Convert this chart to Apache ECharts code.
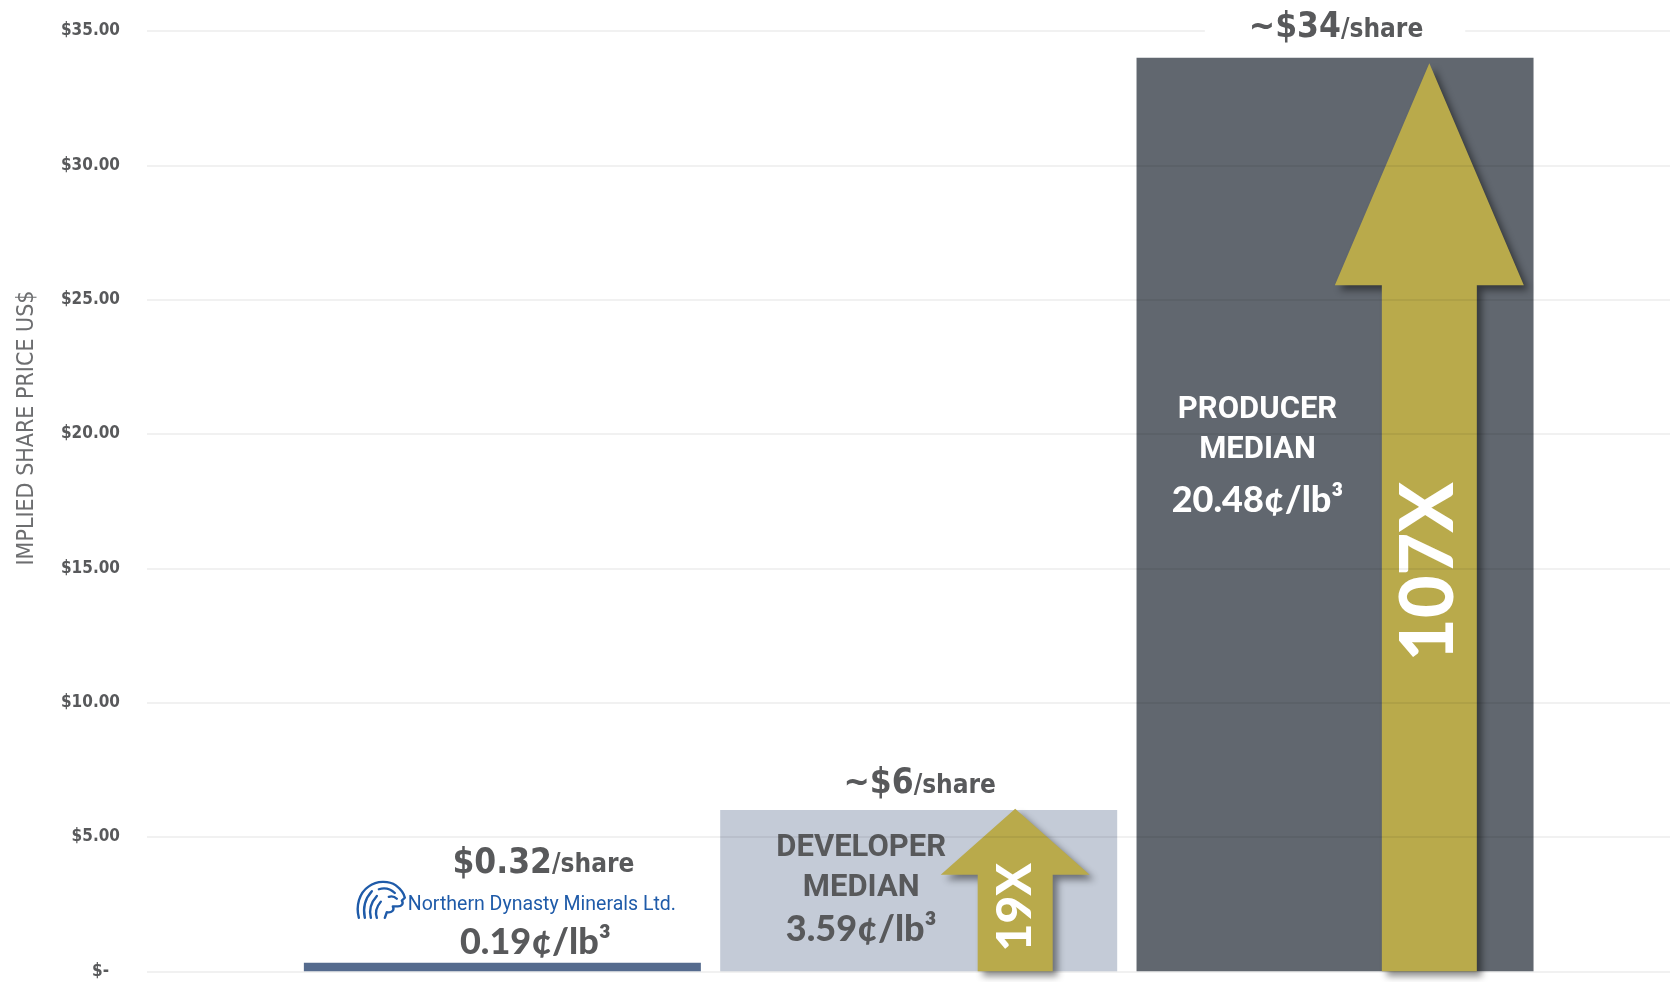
<!DOCTYPE html>
<html>
<head>
<meta charset="utf-8">
<script src="https://cdn.jsdelivr.net/npm/echarts@6/dist/echarts.min.js"></script>
<style>
  html, body { margin: 0; padding: 0; background: #fff; }
  #chart { width: 1670px; height: 982px; }
</style>
</head>
<body>
<div id="chart"></div>
<script>
// --- data ---
const categories = ['Northern Dynasty', 'Developer median', 'Producer median'];
const sharePrices = [0.32, 6, 34];
const priceText = ['$0.32', '~$6', '~$34'];
const centsPerLb = ['0.19¢/lb³', '3.59¢/lb³', '20.48¢/lb³'];
const groupNames = [[], ['DEVELOPER', 'MEDIAN'], ['PRODUCER', 'MEDIAN']];
const multiples = ['', '19X', '107X'];
const arrowTips = [null, 6.05, 33.8];
const yTickLabels = ['$-', '$5.00', '$10.00', '$15.00', '$20.00', '$25.00', '$30.00', '$35.00'];
const companyName = 'Northern Dynasty Minerals Ltd.';
const axisTitle = 'IMPLIED SHARE PRICE US$';

// --- styles ---
const grey = '#58595b';
const gold = '#b9aa4b';
const barColors = ['#556b8e', '#c4cbd7', '#61676f'];
const narrow = '"Liberation Sans Narrow", "DejaVu Sans Condensed", sans-serif';
const cond = '"DejaVu Sans Condensed", "Liberation Sans Narrow", sans-serif';
const head = 'Roboto, "Liberation Sans Narrow", sans-serif';
const round = 'Lato, "Open Sans", sans-serif';

// arrow geometry in pixels, relative to the bar centre
const arrowShapes = [null,
  { dx: 96.5, shaft: 75, head: 149, headLen: 66, textAt: 0.394, font: 48 },
  { dx: 94.3, shaft: 95, head: 189, headLen: 222, textAt: 0.44, font: 74 }
];

const logoSvg = "<svg xmlns='http://www.w3.org/2000/svg' width='52' height='42' viewBox='0 0 52 42'>" +
  "<g fill='none' stroke='#1f5ba9' stroke-width='2.4' stroke-linecap='round' stroke-linejoin='round'>" +
  "<path d='M3 40 C0 28 3 14 13 7 C21 1 33 1 40 6 C45 10 48 14 49 19 L46 22 C48 25 46 28 42 28 L37 28 C39 32 36 35 31 34 L29 40'/>" +
  "<path d='M9 40 C7 30 9 20 16 12'/><path d='M15 40 C13 32 15 24 21 17'/>" +
  "<path d='M21 40 C19 34 21 28 25 23'/><path d='M23 10 C29 8 35 10 39 14'/>" +
  "<path d='M33 18 C36 17 39 18 41 20'/></g></svg>";
const logoUrl = 'data:image/svg+xml;charset=utf-8,' + encodeURIComponent(logoSvg);

const chart = echarts.init(document.getElementById('chart'));

const topLabelDistance = [0, 6, 10];
const topLabelOffsets = [[13.5, 0], [0, 0], [0, 0]];
const innerOffsets = [[0, 0], [-57.5, 13], [-77.5, 327]];
const innerColors = [grey, grey, '#ffffff'];

const richTop = {
  sp1: { width: 58 },
  b0: { fontFamily: cond, fontWeight: 'bold', fontSize: 35, color: grey, backgroundColor: '#fff',
        lineHeight: 24, padding: [8, 0, 16, 21] },
  s0: { fontFamily: cond, fontWeight: 'bold', fontSize: 26, color: grey, backgroundColor: '#fff',
        lineHeight: 20, padding: [12, 24, 16, 0] },
  logo: { width: 52, height: 40, verticalAlign: 'top', backgroundColor: { image: logoUrl } },
  nd: { fontFamily: head, fontSize: 19.5, color: '#1f5ba9', lineHeight: 43, padding: [8, 0, 0, 0] },
  sp3: { width: 39 },
  num: { fontFamily: round, fontWeight: 900, fontSize: 36, color: grey, lineHeight: 40 },
  tb: { fontFamily: cond, fontWeight: 'bold', fontSize: 35, color: grey, backgroundColor: '#fff',
        lineHeight: 40, padding: [0, 0, 0, 44] },
  ts: { fontFamily: cond, fontWeight: 'bold', fontSize: 26, color: grey, backgroundColor: '#fff',
        lineHeight: 36, padding: [4, 42, 0, 0] }
};

const richInner = {
  hd: { fontFamily: head, fontWeight: 'bold', fontSize: 31, lineHeight: 40 },
  num: { fontFamily: round, fontWeight: 900, fontSize: 36, lineHeight: 42 },
  numP: { fontFamily: round, fontWeight: 900, fontSize: 36, lineHeight: 42, padding: [20, 0, 0, 0] }
};

const option = {
  animation: false,
  backgroundColor: '#fff',
  grid: [
    { left: 147, right: 0, top: 31, bottom: 10.7 },
    { left: 294.2, right: 126.8, top: 31, bottom: 10.7 }
  ],
  xAxis: [
    { gridIndex: 0, type: 'value', min: 0, max: 1, show: false },
    { gridIndex: 1, type: 'category', data: categories, show: false }
  ],
  yAxis: [
    {
      gridIndex: 0, type: 'value', min: 0, max: 35, interval: 5, z: 3.5,
      axisLine: { show: false }, axisTick: { show: false },
      splitLine: { lineStyle: { color: 'rgba(0,0,0,0.075)', width: 1.5 } },
      axisLabel: {
        margin: 27, fontFamily: cond, fontWeight: 'bold', fontSize: 17, color: grey,
        formatter: v => v === 0 ? '{z|' + yTickLabels[0] + '}' : yTickLabels[v / 5],
        rich: { z: { fontFamily: cond, fontWeight: 'bold', fontSize: 17, color: grey, padding: [0, 11, 0, 0] } }
      }
    },
    { gridIndex: 1, type: 'value', min: 0, max: 35, interval: 5, show: false, splitLine: { show: false } }
  ],
  graphic: [{
    type: 'text', x: 27, y: 428, rotation: Math.PI / 2,
    style: { text: axisTitle, font: '23px ' + narrow, fill: '#6d6e70', align: 'center', verticalAlign: 'middle' }
  }],
  series: [
    {
      name: 'Implied share price', type: 'bar', xAxisIndex: 1, yAxisIndex: 1,
      barWidth: 397, z: 2,
      data: sharePrices.map((v, i) => ({
        value: v,
        itemStyle: { color: barColors[i] },
        label: { show: i > 0, offset: innerOffsets[i], color: innerColors[i] }
      })),
      label: {
        position: 'insideTop',
        formatter: p => {
          const i = p.dataIndex;
          if (!groupNames[i].length) return '';
          return groupNames[i].map(t => '{hd|' + t + '}').join('\n') +
            '\n{' + (i === 2 ? 'numP' : 'num') + '|' + centsPerLb[i] + '}';
        },
        rich: richInner
      }
    },
    {
      name: 'labels', type: 'bar', xAxisIndex: 1, yAxisIndex: 1,
      barWidth: 397, barGap: '-100%', z: 4, silent: true,
      itemStyle: { color: 'rgba(0,0,0,0)' },
      data: sharePrices.map((v, i) => ({ value: v, label: { distance: topLabelDistance[i], offset: topLabelOffsets[i] } })),
      label: {
        show: true, position: 'top',
        formatter: p => {
          const i = p.dataIndex;
          if (i === 0) {
            return '{sp1|}{b0|' + priceText[0] + '}{s0|/share}\n' +
              '{logo|}{nd|' + companyName + '}\n' +
              '{sp3|}{num|' + centsPerLb[0] + '}';
          }
          return '{tb|' + priceText[i] + '}{ts|/share}';
        },
        rich: richTop
      }
    },
    {
      name: 'multiple', type: 'custom', xAxisIndex: 1, yAxisIndex: 1, z: 3, clip: false,
      data: arrowTips.map((t, i) => [i, t]).filter(d => d[1] !== null),
      renderItem: (params, api) => {
        const i = api.value(0);
        const s = arrowShapes[i];
        const base = api.coord([i, 0]);
        const tip = api.coord([i, api.value(1)]);
        const cx = base[0] + s.dx, y0 = base[1], y1 = tip[1], yh = y1 + s.headLen;
        const hs = s.shaft / 2, hh = s.head / 2;
        return {
          type: 'group',
          children: [
            {
              type: 'polygon',
              shape: { points: [[cx - hs, y0], [cx - hs, yh], [cx - hh, yh], [cx, y1], [cx + hh, yh], [cx + hs, yh], [cx + hs, y0]] },
              style: { fill: gold, shadowBlur: 7, shadowOffsetX: 5, shadowOffsetY: 5, shadowColor: 'rgba(0,0,0,0.45)' }
            },
            {
              type: 'text', x: cx, y: y0 - (y0 - y1) * s.textAt, rotation: Math.PI / 2,
              style: { text: multiples[i], fill: '#fff', font: '900 ' + s.font + 'px ' + round,
                       align: 'center', verticalAlign: 'middle' }
            }
          ]
        };
      }
    }
  ]
};

chart.setOption(option);
</script>
</body>
</html>
